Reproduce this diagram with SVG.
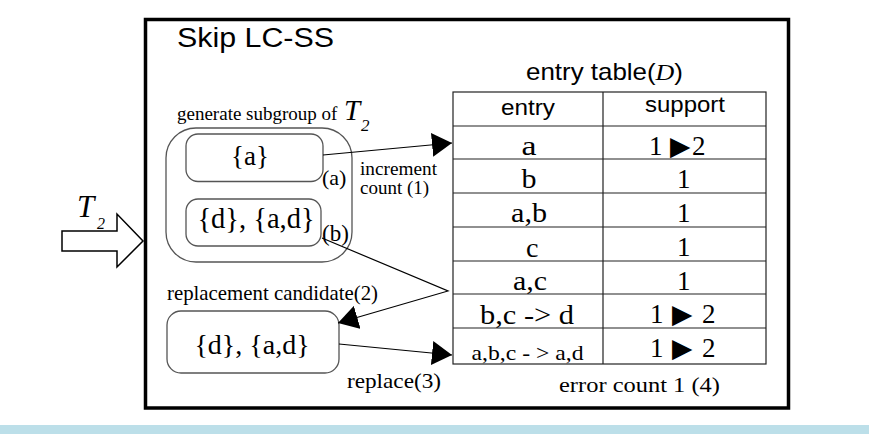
<svg xmlns="http://www.w3.org/2000/svg" width="869" height="434" viewBox="0 0 869 434">
<defs>
<style>
.serif{font-family:"Liberation Serif","Times New Roman",serif;fill:#000}
.sans{font-family:"Liberation Sans",Arial,sans-serif;fill:#000}
.tri{font-family:"DejaVu Sans",sans-serif;fill:#000}
.box{fill:#fff;stroke:#555;stroke-width:1.3}
.grid{stroke:#222;stroke-width:1.2;fill:none}
.conn{stroke:#000;stroke-width:1.2;fill:none}
.c{text-anchor:middle}
</style>
<marker id="ah" viewBox="0 0 20 24" refX="20" refY="12" markerWidth="20" markerHeight="24" markerUnits="userSpaceOnUse" orient="auto">
<path d="M0,0 L20,12 L0,24 Z" fill="#000"/>
</marker>
</defs>
<rect x="0" y="0" width="869" height="434" fill="#fff"/>
<rect x="0" y="425" width="869" height="9" fill="#bcdfe9"/>

<g id="frame">
<rect x="145.5" y="19.5" width="643" height="388.5" fill="none" stroke="#000" stroke-width="3.5"/>
<text class="sans" x="177" y="47" font-size="27" textLength="157" lengthAdjust="spacingAndGlyphs">Skip LC-SS</text>
</g>

<g id="input-arrow">
<path d="M62,231 L117,231 L117,214 L143,241 L117,267 L117,251 L62,251 Z" fill="#fff" stroke="#000" stroke-width="1.5"/>
<text class="serif" x="77" y="217" font-size="31" font-style="italic">T</text>
<text class="serif" x="97" y="229" font-size="16" font-style="italic">2</text>
</g>

<g id="subgroup">
<text class="serif" x="177" y="120" font-size="19">generate subgroup of</text>
<text class="serif" x="344" y="120" font-size="29" font-style="italic">T</text>
<text class="serif" x="361" y="131" font-size="17" font-style="italic">2</text>
<rect class="box" x="166" y="128" width="186" height="134" rx="30"/>
</g>

<g id="node-a">
<rect class="box" x="186" y="134" width="137" height="47.5" rx="12"/>
<text class="serif c" x="250" y="165" font-size="27">{a}</text>
</g>

<g id="node-d-ad">
<rect class="box" x="186" y="199" width="135" height="47" rx="12"/>
<text class="serif c" x="256" y="228" font-size="28.5">{d}, {a,d}</text>
</g>

<g id="node-replacement">
<text class="serif" x="167" y="300" font-size="21" textLength="211" lengthAdjust="spacingAndGlyphs">replacement candidate(2)</text>
<rect class="box" x="167" y="311" width="172" height="62" rx="14"/>
<text class="serif c" x="252" y="354" font-size="28">{d}, {a,d}</text>
</g>

<g id="table">
<text class="sans" x="526" y="80" font-size="24" textLength="157" lengthAdjust="spacingAndGlyphs">entry table(<tspan class="serif" font-style="italic">D</tspan>)</text>
<rect class="grid" x="453" y="92" width="313" height="272"/>
<path class="grid" d="M603,92 V364 M453,126 H766 M453,159 H766 M453,193 H766 M453,227 H766 M453,261 H766 M453,294 H766 M453,328 H766"/>
<text class="sans" x="501" y="115" font-size="22" textLength="54" lengthAdjust="spacingAndGlyphs">entry</text>
<text class="sans" x="645" y="112" font-size="22" textLength="80" lengthAdjust="spacingAndGlyphs">support</text>
<g class="serif" font-size="28">
<text x="521.5" y="155" textLength="15" lengthAdjust="spacingAndGlyphs">a</text>
<text x="521.5" y="188" textLength="15" lengthAdjust="spacingAndGlyphs">b</text>
<text x="511" y="222" textLength="36" lengthAdjust="spacingAndGlyphs">a,b</text>
<text x="526" y="257" textLength="12.5" lengthAdjust="spacingAndGlyphs">c</text>
<text x="513" y="290" textLength="34" lengthAdjust="spacingAndGlyphs">a,c</text>
<text x="480" y="324" textLength="94" lengthAdjust="spacingAndGlyphs">b,c -&gt; d</text>
<text x="471.5" y="360" font-size="22" textLength="112" lengthAdjust="spacingAndGlyphs">a,b,c - &gt; a,d</text>
</g>
<g class="serif" font-size="27">
<text x="649" y="155">1</text>
<text x="692" y="155">2</text>
<text x="677" y="188">1</text>
<text x="677" y="222">1</text>
<text x="677" y="256">1</text>
<text x="677" y="290">1</text>
<text x="650" y="323">1</text>
<text x="702" y="323">2</text>
<text x="650" y="357">1</text>
<text x="702" y="357">2</text>
</g>
<g class="tri" font-size="26.5">
<text x="670" y="155">▶</text>
<text x="672" y="323">▶</text>
<text x="672" y="357">▶</text>
</g>
<text class="serif" x="559" y="392" font-size="22" textLength="161" lengthAdjust="spacingAndGlyphs">error count 1 (4)</text>
</g>

<g id="connectors">
<path class="conn" d="M323,155 L452,143" marker-end="url(#ah)"/>
<path class="conn" d="M322,238 L448,291 L338,323" marker-end="url(#ah)"/>
<path class="conn" d="M339,344 L452,355" marker-end="url(#ah)"/>
<text class="serif" x="322" y="185" font-size="22">(a)</text>
<text class="serif" x="322" y="241" font-size="23">(b)</text>
<text class="serif" x="360" y="175" font-size="19" textLength="77" lengthAdjust="spacingAndGlyphs">increment</text>
<text class="serif" x="360" y="194" font-size="19">count (1)</text>
<text class="serif" x="347" y="388" font-size="21" textLength="94" lengthAdjust="spacingAndGlyphs">replace(3)</text>
</g>
</svg>
